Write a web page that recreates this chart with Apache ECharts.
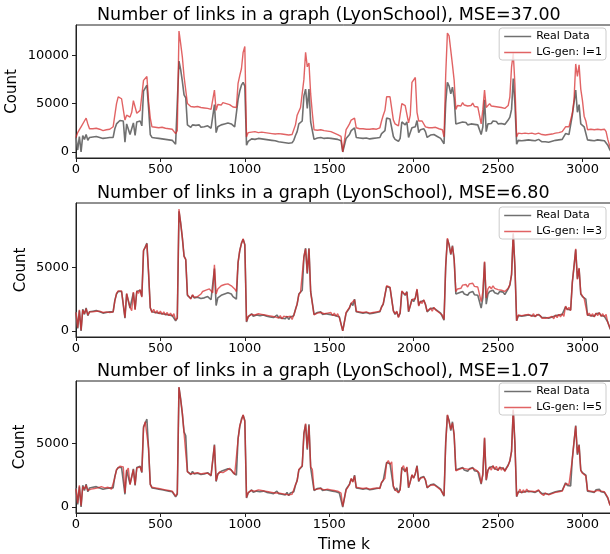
<!DOCTYPE html>
<html>
<head>
<meta charset="utf-8">
<script src="https://cdn.jsdelivr.net/npm/echarts@6/dist/echarts.min.js"></script>
<style>
html,body{margin:0;padding:0;background:#fff;}
#chart{width:610px;height:554px;}
</style>
</head>
<body>
<div id="chart"></div>
<script>
// ---- data (sampled every STEP time steps) ----
const STEP = 10;
const realData = [
1500,200,1600,0,1700,1300,1800,1200,1500,1350,
1550,1400,1600,1450,1500,1650,1400,1550,1450,1600,
1500,1350,1500,2400,2900,3100,3250,3100,3200,1000,
2900,3000,1800,1650,3000,1700,3100,3000,3200,2700,
6300,6600,6900,4500,1800,1500,1650,1450,1550,1400,
1500,1350,1450,1300,1400,1250,1350,1200,1300,800,
1000,9400,8500,7300,5900,5600,2800,2700,2550,2800,
2600,2750,2650,2800,2550,2700,2600,2500,2700,2600,
2450,2300,4900,2000,2600,2700,2800,2650,2900,2800,
3000,3100,2900,2700,2600,2500,5400,6300,6900,7200,
6800,700,1100,1200,1350,1150,1300,1250,1400,1200,
1350,1250,1300,1150,1250,1100,1200,1050,1150,1250,
1050,1150,1000,1100,950,1150,900,1100,950,1200,
1700,2100,2900,3000,3200,5800,6500,4500,6500,3100,
3000,1300,1250,1450,1350,1500,1300,1400,1350,1450,
1300,1400,1250,1350,1200,1300,1100,1150,0,0,
1400,1500,1800,2200,2000,2500,1500,1650,1450,1600,
1400,1550,1450,1600,1350,1500,1400,1550,1450,1350,
1500,1900,2100,2200,3500,3600,3400,3500,1600,1300,
1500,1100,1400,3100,3200,2800,3100,1500,2000,2500,
2300,2600,3250,2000,2300,2200,2400,2100,1500,1650,
1750,1600,1800,1700,1600,1500,1400,1300,850,5100,
7200,6800,6000,6700,5600,2900,2800,3000,2850,3100,
2900,3050,2800,3000,2900,3100,2850,2950,2800,2700,
1800,2600,5400,2100,2900,3100,2950,3200,3000,3150,
2900,3100,2950,3050,2850,3000,3300,3600,4400,7600,
5000,800,1200,1350,1150,1300,1200,1350,1250,1400,
1200,1300,1150,1250,1300,1150,1050,950,1050,900,
1000,950,1100,1000,1200,1100,1250,1150,1300,1200,
1900,1700,1800,1650,3800,5100,6400,4100,4900,2900,
2700,2600,2500,1250,1350,1200,1300,1150,1350,1250,
1400,1200,1300,1150,1250,700,300,0
];
const gen1 = [
1500,2000,2300,2600,2800,3200,3500,2900,2400,2250,
2400,2200,2450,2300,2350,2500,2200,2400,2300,2450,
2350,2250,2600,3800,5000,5700,5600,5500,5400,3300,
3800,4000,3600,4100,5300,5400,4000,3900,4300,4400,
7400,7500,7800,5200,3500,2600,2700,2550,2650,2500,
2700,2550,2650,2450,2600,2400,2550,2350,2500,1900,
2200,12500,11200,9800,7800,7600,5000,4800,4700,4900,
4650,4800,4700,4850,4600,4750,4550,4650,4500,4600,
4400,4300,6400,4300,4900,5000,4850,5100,4950,5000,
4800,4900,4700,4650,4500,4600,7100,7900,8600,10300,
10900,1550,2000,2150,2050,2250,2100,2200,2000,2150,
2050,2200,2000,2100,1950,2050,1900,2000,1850,2000,
1900,2050,1850,1950,1800,1900,1750,1850,1800,1900,
2800,3800,4000,4600,4800,7500,10300,8800,9200,6000,
4000,2300,2450,2250,2400,2300,2350,2200,2300,2150,
2250,2100,2150,1950,2000,1800,1700,1600,0,0,
2300,2600,2900,3300,3100,3500,2500,2600,2400,2550,
2400,2500,2350,2550,2350,2450,2400,2500,2350,2400,
2500,3200,3800,4300,5700,5600,5700,5500,3300,2900,
3000,2700,2900,5000,5100,4800,5000,3000,3800,7200,
7000,7700,4100,3200,3100,3200,3050,2600,2400,2500,
2650,2500,2700,2550,2500,2400,2350,2300,1550,8000,
12300,12000,10500,9000,7400,4400,4800,4900,4750,5100,
4850,5000,4750,4900,4800,5050,4700,4850,4650,4550,
2900,4400,6400,4600,4800,5000,4750,4900,4700,4850,
4650,4800,4600,4700,4500,4650,4800,5700,8800,10200,
7000,1550,1950,2100,1900,2050,1950,2100,1900,2050,
1950,2000,1850,2000,1950,1900,1800,1900,1750,1850,
1800,1900,1850,2000,1950,2100,2000,2150,2100,2050,
2600,2500,2600,2400,4000,5400,9100,7800,9000,6500,
5300,3700,3200,2300,2250,2350,2200,2300,2150,2350,
2250,2300,2200,2350,2100,1300,700,200
];
const gen3 = [
1450,250,1650,50,1650,1350,1750,1250,1500,1400,
1500,1450,1550,1400,1550,1600,1450,1500,1500,1550,
1450,1400,1500,2350,2950,3150,3200,3150,3150,1050,
2950,2950,1850,1600,3050,1650,3150,2950,3250,2650,
6350,6550,6850,4550,1850,1450,1700,1400,1600,1350,
1550,1300,1500,1250,1450,1200,1400,1150,1350,850,
1050,9580,8450,7350,5850,5650,2850,2750,2500,2850,
2650,2800,2700,2850,2900,3100,3000,3200,3100,3300,
3150,3000,5200,2900,3300,3450,3550,3400,3650,3550,
3700,3750,3550,3400,3300,3100,5350,6350,6850,7250,
6750,750,1150,1250,1300,1200,1250,1300,1350,1250,
1300,1300,1250,1200,1200,1150,1150,1100,1100,1200,
1000,1200,950,1150,1000,1100,950,1150,900,1250,
1650,2150,2850,3050,3150,5850,6450,4550,6450,3050,
3050,1250,1300,1400,1400,1450,1350,1350,1400,1400,
1250,1450,1200,1400,1150,1350,1050,1200,0,50,
1450,1450,1850,2150,2050,2450,1550,1600,1500,1550,
1450,1500,1500,1550,1400,1450,1450,1500,1500,1400,
1550,1850,2150,2150,3550,3550,3450,3450,1550,1350,
1550,1050,1450,3150,3150,2850,3050,1550,1950,2450,
2350,2550,3300,1950,2350,2150,2450,2050,1550,1600,
1800,1550,1850,1650,1650,1450,1450,1250,900,5150,
7300,6750,6050,6650,5650,3100,3300,3450,3350,3600,
3450,3650,3450,3700,3550,3750,3500,3600,3450,3300,
2300,3100,5450,2600,3300,3500,3300,3550,3350,3500,
3250,3400,3200,3300,3100,3150,3350,3650,4450,7700,
5050,800,1250,1300,1200,1250,1250,1300,1300,1350,
1150,1350,1100,1300,1250,1200,1000,1000,1000,950,
1050,900,1150,950,1250,1050,1300,1100,1350,1150,
1950,1650,1850,1600,3850,5050,6450,4050,4950,2950,
2750,2550,2550,1200,1400,1150,1350,1100,1400,1200,
1450,1150,1350,1100,1300,650,350,0
];
const gen5 = [
1400,300,1700,100,1600,1400,1700,1300,1450,1400,
1500,1450,1550,1500,1450,1600,1450,1500,1500,1550,
1450,1400,1550,2300,2950,3050,3200,3150,3150,1100,
2850,3050,1750,1700,2950,1750,3050,3050,3150,2750,
6200,6700,6800,4600,1750,1550,1600,1500,1500,1450,
1450,1400,1400,1350,1350,1300,1300,1250,1250,850,
1100,9430,8400,7400,5800,5700,2750,2750,2600,2750,
2650,2700,2700,2750,2600,2650,2650,2550,2650,2650,
2500,2350,4850,2050,2550,2750,2750,2700,2850,2850,
2950,3050,2950,2750,2550,2550,5300,6400,6800,7250,
6700,750,1150,1150,1300,1200,1250,1300,1350,1250,
1300,1300,1250,1200,1200,1150,1150,1100,1100,1200,
1100,1100,1050,1050,1000,1100,950,1050,1000,1150,
1750,2050,2950,2950,3250,5700,6550,4600,6400,3150,
2950,1350,1200,1400,1400,1450,1350,1350,1400,1400,
1350,1350,1300,1300,1250,1250,1150,1100,50,0,
1350,1550,1750,2250,1950,2450,1550,1600,1500,1550,
1450,1500,1500,1550,1400,1450,1450,1500,1500,1400,
1450,1950,2050,2250,3450,3650,3350,3550,1650,1350,
1450,1150,1350,3050,3250,2750,3150,1550,1950,2550,
2250,2650,3200,2050,2250,2250,2350,2150,1550,1600,
1700,1650,1750,1750,1550,1550,1350,1350,900,5000,
7250,6700,6100,6600,5700,2850,2850,2950,2900,3050,
2950,3000,2850,2950,2950,3050,2900,2900,2850,2650,
1850,2550,5450,2150,2850,3150,2900,3250,2950,3200,
2850,3150,2900,3100,2800,3050,3250,3650,4350,7650,
4900,850,1150,1400,1100,1350,1150,1400,1200,1350,
1250,1250,1200,1200,1350,1100,1100,900,1100,950,
950,1000,1050,1050,1150,1150,1200,1200,1250,1250,
1850,1750,1750,1700,3750,5150,6350,4200,4850,2850,
2650,2650,2450,1300,1300,1250,1250,1200,1300,1300,
1350,1250,1250,1200,1200,750,250,0
];
const genSeries = [gen1, gen3, gen5];
const genNames = ['LG-gen: l=1', 'LG-gen: l=3', 'LG-gen: l=5'];
const realName = 'Real Data';
const panelTitles = [
  'Number of links in a graph (LyonSchool), MSE=37.00',
  'Number of links in a graph (LyonSchool), MSE=6.80',
  'Number of links in a graph (LyonSchool), MSE=1.07'
];
const xTickValues = [0, 500, 1000, 1500, 2000, 2500, 3000];
const yTickValues = [[0, 5000, 10000], [0, 5000], [0, 5000]];
const yLimits = [[-625, 13125], [-479, 10059], [-471, 9900]];
const xLimits = [0, 3175];
const xLabel = 'Time k';
const yLabel = 'Count';

// ---- layout / style ----
const FONT = 'DejaVu Sans';
const gridTops = [25, 203, 381];
const gridHeights = [133, 134, 132];
const titleTops = [6, 184, 362];
const legendTops = [28, 207, 383];
const yNamePos = [[12.5, 91.5], [21, 270], [20.5, 447]];
const GRAY = '#707070';
const RED = 'rgba(214,39,40,0.72)';
const AX = '#222';

const toPairs = arr => arr.map((v, i) => [i * STEP, v]);
const plain = v => String(v);

const grids = [], xAxes = [], yAxes = [], series = [], titles = [], legends = [], graphics = [];
for (let p = 0; p < 3; p++) {
  grids.push({left: 76, width: 536, top: gridTops[p], height: gridHeights[p],
    show: true, borderColor: AX, borderWidth: 1, backgroundColor: 'transparent',
    containLabel: false, outerBoundsMode: 'none'});
  const xa = {
    type: 'value', gridIndex: p, min: xLimits[0], max: xLimits[1],
    axisLine: {show: true, onZero: false, lineStyle: {color: AX, width: 1}},
    axisTick: {show: true, length: 4, inside: false, customValues: xTickValues, lineStyle: {color: AX}},
    axisLabel: {customValues: xTickValues, formatter: plain, fontSize: 13, color: '#000', margin: 5, fontFamily: FONT},
    splitLine: {show: false}
  };
  if (p === 2) {
    xa.name = xLabel; xa.nameLocation = 'middle'; xa.nameGap = 24;
    xa.nameTextStyle = {fontSize: 15.5, color: '#000', fontFamily: FONT};
  }
  xAxes.push(xa);
  yAxes.push({
    type: 'value', gridIndex: p, min: yLimits[p][0], max: yLimits[p][1],
    axisLine: {show: true, onZero: false, lineStyle: {color: AX, width: 1}},
    axisTick: {show: true, length: 4, inside: false, customValues: yTickValues[p], lineStyle: {color: AX}},
    axisLabel: {customValues: yTickValues[p], formatter: plain, fontSize: 13, color: '#000', margin: 7, fontFamily: FONT},
    splitLine: {show: false}
  });
  graphics.push({
    type: 'text', x: yNamePos[p][0], y: yNamePos[p][1], rotation: Math.PI / 2, silent: true,
    style: {text: yLabel, fontSize: 15, fontFamily: FONT, fill: '#000', textAlign: 'center', textVerticalAlign: 'middle'}
  });
  series.push({
    name: realName, type: 'line', xAxisIndex: p, yAxisIndex: p, data: toPairs(realData),
    symbol: 'none', showSymbol: false, lineStyle: {color: GRAY, width: 1.6}, itemStyle: {color: GRAY},
    z: 2, animation: false, silent: true
  });
  series.push({
    name: genNames[p], type: 'line', xAxisIndex: p, yAxisIndex: p, data: toPairs(genSeries[p]),
    symbol: 'none', showSymbol: false, lineStyle: {color: RED, width: 1.4}, itemStyle: {color: RED},
    z: 3, animation: false, silent: true
  });
  titles.push({
    text: panelTitles[p], left: 97, top: titleTops[p], padding: 0,
    textStyle: {fontSize: 17.5, fontWeight: 'normal', color: '#000', fontFamily: FONT}
  });
  legends.push({
    data: [realName, genNames[p]], orient: 'vertical', right: 4, top: legendTops[p],
    backgroundColor: 'rgba(255,255,255,0.8)', borderColor: '#cccccc', borderWidth: 1, borderRadius: 3,
    padding: [3, 4, 2, 5], itemWidth: 27, itemHeight: 1.5, itemGap: 5, icon: 'rect',
    textStyle: {fontSize: 11, color: '#000', fontFamily: FONT}, selectedMode: false
  });
}

const chart = echarts.init(document.getElementById('chart'), null, {renderer: 'canvas'});
chart.setOption({
  animation: false,
  backgroundColor: '#fff',
  textStyle: {fontFamily: FONT},
  title: titles,
  legend: legends,
  grid: grids,
  xAxis: xAxes,
  yAxis: yAxes,
  graphic: graphics,
  series: series
});
</script>
</body>
</html>
